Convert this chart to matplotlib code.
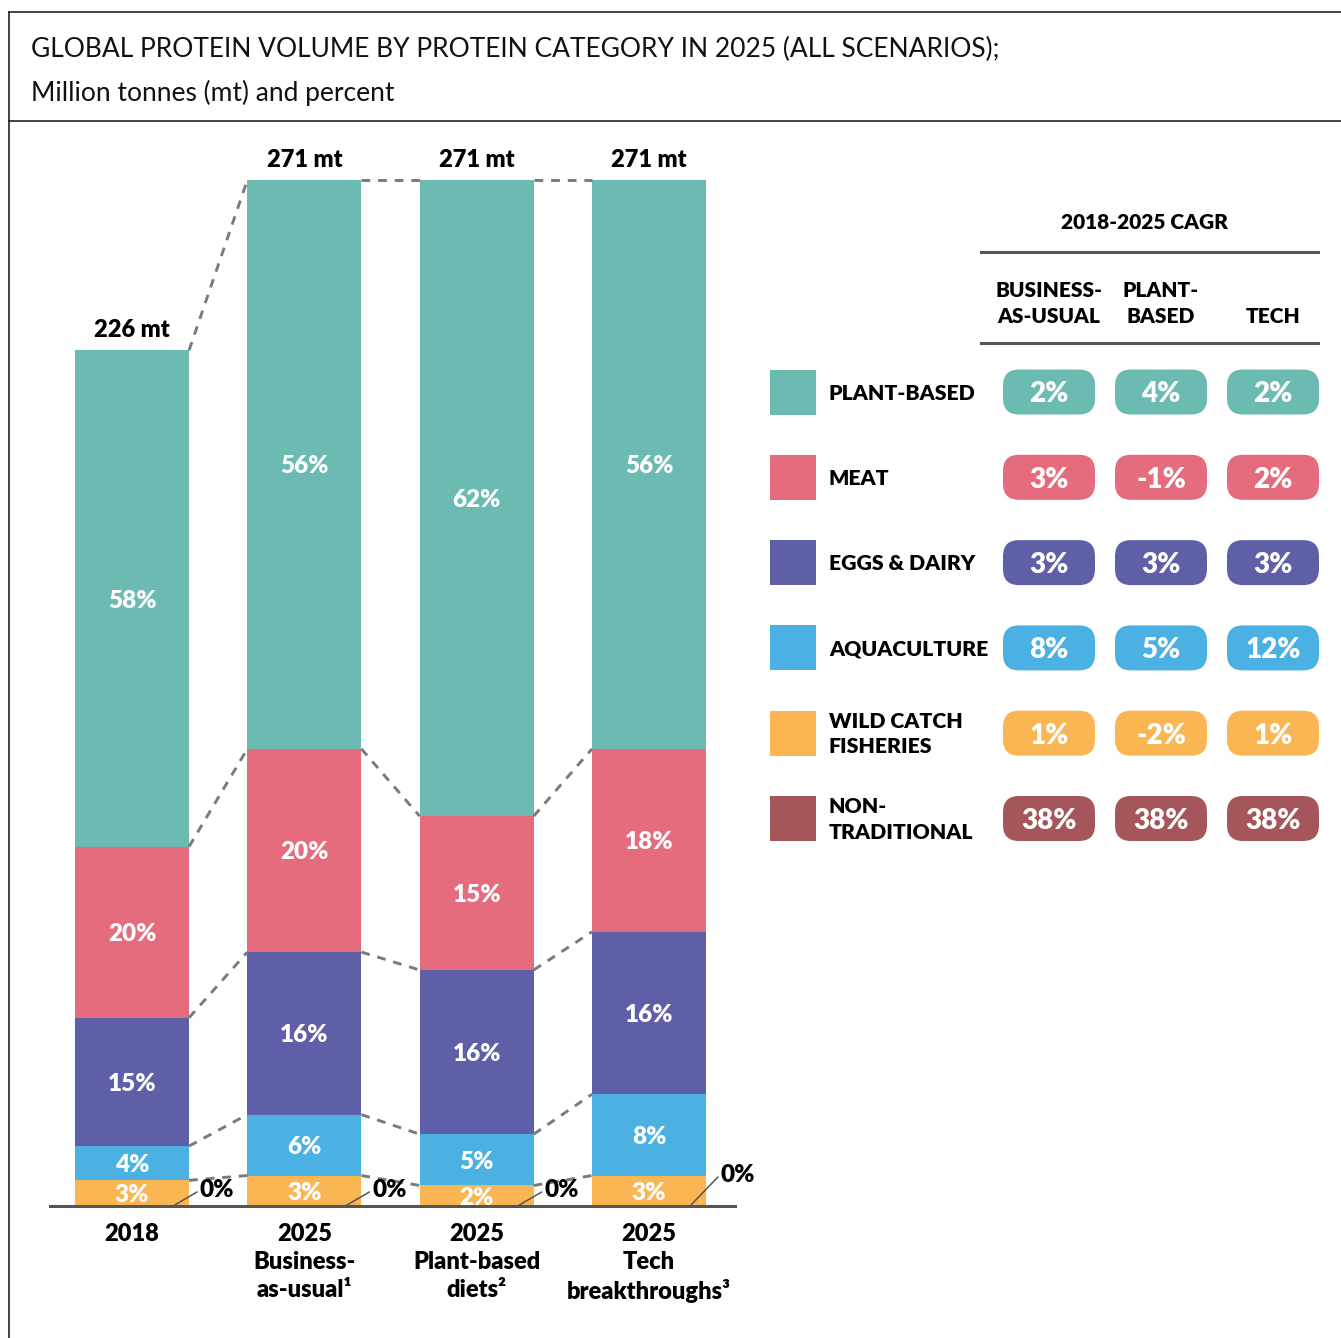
import numpy as np
import matplotlib.pyplot as plt
from matplotlib.patches import FancyBboxPatch, Rectangle

plt.rcParams['font.family'] = ['Lato', 'DejaVu Sans']

W, H = 1341, 1338
BOLD = 'heavy'

# protein categories, stacked bottom to top
categories = ['NON-TRADITIONAL', 'WILD CATCH FISHERIES', 'AQUACULTURE',
              'EGGS & DAIRY', 'MEAT', 'PLANT-BASED']
colors = ['#A5565B', '#FBB654', '#4BB0E2', '#5F5FA7', '#E46C7D', '#6CBBB3']

bar_labels = ['2018', '2025\nBusiness-\nas-usual¹', '2025\nPlant-based\ndiets²',
              '2025\nTech\nbreakthroughs³']
totals_mt = [226, 271, 271, 271]
share_2018 = [0, 3, 4, 15, 20, 58]
share_bau = [0, 3, 6, 16, 20, 56]
share_plant = [0, 2, 5, 16, 15, 62]
share_tech = [0, 3, 8, 16, 18, 56]

# CAGR table, top row first
cagr_rows = ['PLANT-BASED', 'MEAT', 'EGGS & DAIRY', 'AQUACULTURE',
             'WILD CATCH\nFISHERIES', 'NON-\nTRADITIONAL']
cagr_row_colors = colors[::-1]
cagr_cols = ['BUSINESS-\nAS-USUAL', 'PLANT-\nBASED', 'TECH']
cagr_bau = [2, 3, 3, 8, 1, 38]
cagr_plant = [4, -1, 3, 5, -2, 38]
cagr_tech = [2, 2, 3, 12, 1, 38]

fig = plt.figure(figsize=(W / 100, H / 100), dpi=100)

# ---- stacked bars ----
ax = fig.add_axes([50 / W, 1 - 1206 / H, 685 / W, 1026 / H])
ax.set_xlim(-0.476, 3.499)
ax.set_ylim(0, 271)
width = 0.6615

shares = [share_2018, share_bau, share_plant, share_tech]
cum_tops = []
for i, (tot, sh) in enumerate(zip(totals_mt, shares)):
    vals = np.array(sh, dtype=float) / sum(sh) * tot
    bottoms = np.concatenate([[0], np.cumsum(vals)[:-1]])
    ax.bar([i] * len(vals), vals, width, bottom=bottoms, color=colors, linewidth=0)
    cum_tops.append(np.cumsum(vals))
    for v, b, s in zip(vals, bottoms, sh):
        if s > 0:
            ax.text(i, b + v / 2, f'{s}%', color='white', fontsize=17.5,
                    fontweight=BOLD, ha='center', va='center_baseline')
    ax.annotate(f'{tot} mt', (i, tot), xytext=(0, 9), textcoords='offset pixels',
                ha='center', va='bottom', fontsize=17, fontweight=BOLD,
                annotation_clip=False)

    # zero share of non-traditional protein, called out beside the bar
    dx, dy = (24, 14) if i < 3 else (28, 29)
    x0 = i + width / 2 - 0.093
    ax.annotate('', (x0, 0), xytext=(dx, dy), textcoords='offset pixels',
                arrowprops=dict(arrowstyle='-', color='#555555', lw=1.1,
                                shrinkA=0, shrinkB=0), annotation_clip=False)
    ax.annotate(f'{sh[0]}%', (x0, 0), xytext=(dx + 3, dy + 4),
                textcoords='offset pixels', ha='left', va='center_baseline',
                fontsize=17.5, fontweight=BOLD, annotation_clip=False)

# dashed connectors between segment boundaries
for i in range(len(totals_mt) - 1):
    for k in range(1, len(categories)):
        ax.plot([i + width / 2, i + 1 - width / 2],
                [cum_tops[i][k], cum_tops[i + 1][k]],
                ls=(0, (3, 2.7)), color='#7a7a7a', lw=2.1, clip_on=False)

for s in ['top', 'left', 'right']:
    ax.spines[s].set_visible(False)
ax.spines['bottom'].set_color('#555555')
ax.spines['bottom'].set_linewidth(2.2)
ax.set_yticks([])
ax.set_xticks(range(len(bar_labels)))
ax.set_xticklabels(bar_labels, fontsize=17, fontweight=BOLD, linespacing=1.33)
ax.tick_params(axis='x', length=0, pad=12)
ax.patch.set_visible(False)

# ---- frame, title and CAGR table ----
ov = fig.add_axes([0, 0, 1, 1], zorder=-1)
ov.set_xlim(0, W)
ov.set_ylim(H, 0)
ov.axis('off')

ov.plot([9.5, W], [12, 12], color='#222222', lw=1.2)
ov.plot([9.5, 9.5], [12, H], color='#222222', lw=1.2)
ov.plot([9.5, W], [121, 121], color='#222222', lw=1.2)
ov.text(31, 47, 'GLOBAL PROTEIN VOLUME BY PROTEIN CATEGORY IN 2025 (ALL SCENARIOS);',
        fontsize=19, va='center_baseline', ha='left', color='#111111')
ov.text(31, 90, 'Million tonnes (mt) and percent', fontsize=19,
        va='center_baseline', ha='left', color='#111111')

col_x0, col_step = 1049, 112
row_y0, row_step = 392, 85.3
pill_w, pill_h = 92, 45

ov.text(1145, 221, '2018-2025 CAGR', fontsize=15, fontweight=BOLD,
        ha='center', va='center_baseline')
ov.plot([981, 1318], [252, 252], color='#555555', lw=2.2)
ov.plot([981, 1318], [343, 343], color='#555555', lw=2.2)
for j, name in enumerate(cagr_cols):
    ov.text(col_x0 + j * col_step, 326, name, fontsize=15, fontweight=BOLD,
            ha='center', va='bottom', linespacing=1.45)

cagr_values = [cagr_bau, cagr_plant, cagr_tech]
for r, (name, c) in enumerate(zip(cagr_rows, cagr_row_colors)):
    y = row_y0 + r * row_step
    ov.add_patch(Rectangle((770, y - 22.5), 46, 45, color=c, lw=0))
    ov.text(829, y + 1, name, fontsize=15.3, fontweight=BOLD, ha='left',
            va='center', linespacing=1.4)
    for j, col in enumerate(cagr_values):
        cx = col_x0 + j * col_step
        ov.add_patch(FancyBboxPatch((cx - pill_w / 2, y - pill_h / 2), pill_w, pill_h,
                                    boxstyle='round,pad=0,rounding_size=16',
                                    color=c, lw=0))
        ov.text(cx, y, f'{col[r]}%', color='white', fontsize=20, fontweight=BOLD,
                ha='center', va='center_baseline')

fig.savefig('out.png', dpi=100, facecolor='white')
